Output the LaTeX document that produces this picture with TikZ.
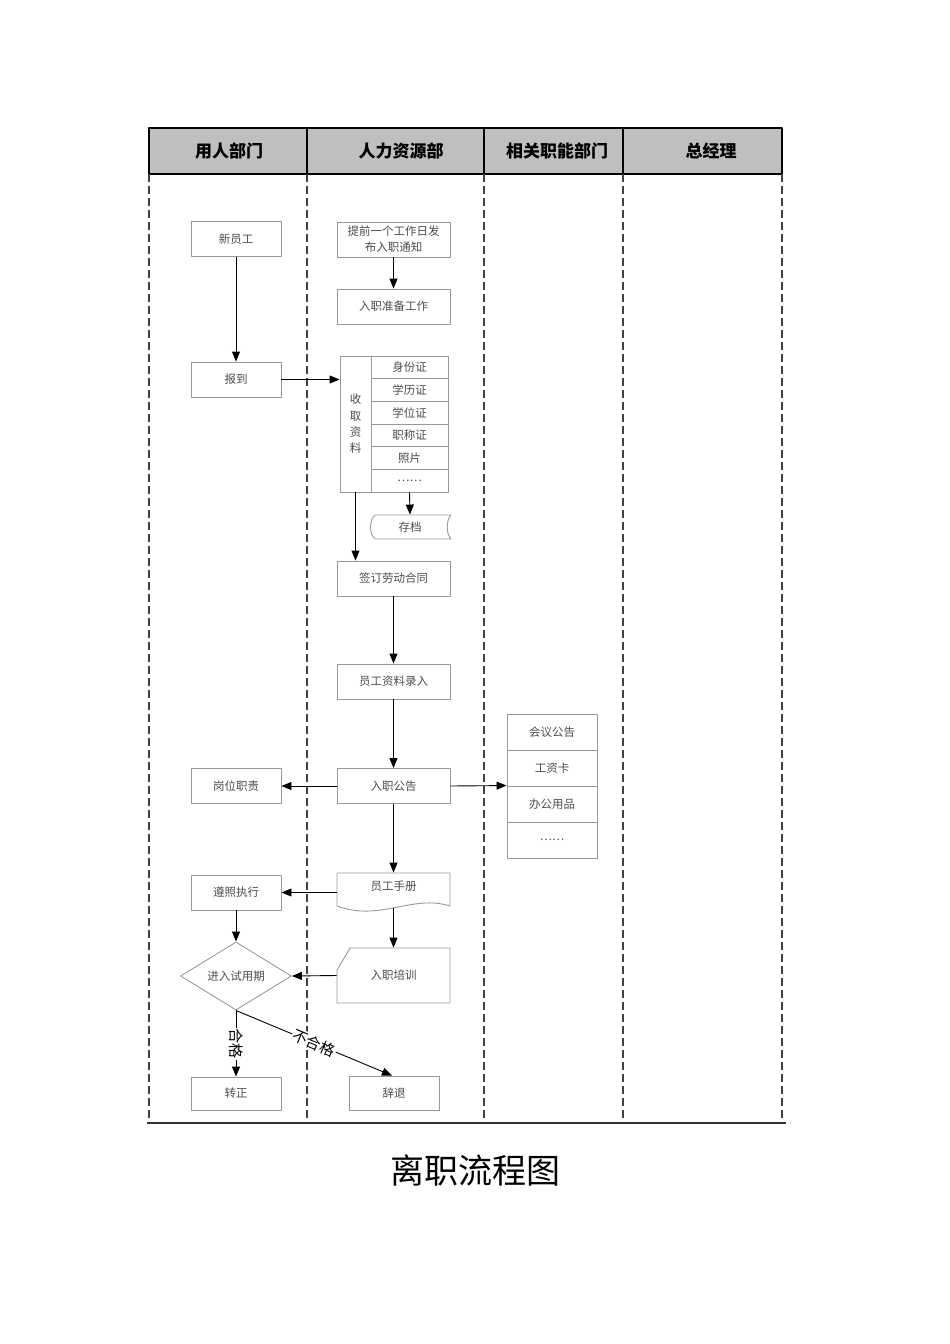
\documentclass[tikz,border=0pt]{standalone}
\usepackage{fontspec}
\setmainfont{Noto Sans CJK SC}
\usetikzlibrary{shapes.geometric,arrows.meta}
\begin{document}
\begin{tikzpicture}[x=1pt, y=-1pt, line join=round, >={Triangle[length=10pt,width=8pt]},
    box/.style={draw=black!40, line width=0.9pt, minimum width=90pt, minimum height=35pt, inner sep=0pt, text=black!70, font=\fontsize{11.5}{14}\selectfont},
    wbox/.style={box, minimum width=113pt},
    cell/.style={box, minimum width=77pt, minimum height=22.67pt},
    bare/.style={box, draw=none},
    lane/.style={black!75, line width=1.3pt, dash pattern=on 8pt off 4pt},
    head/.style={font=\bfseries\fontsize{17}{19}\selectfont},
    conn/.style={->, line width=0.9pt},
    lab/.style={fill=white, inner sep=1pt, font=\fontsize{15}{17}\selectfont}]
  \useasboundingbox (0,0) rectangle (950,1344);
  % header
  \draw[line width=1.6pt, fill=black!25] (149,128) rectangle (782,174);
  \draw[line width=1.6pt] (307,128) -- (307,174) (484,128) -- (484,174) (623,128) -- (623,174);
  \node[head] (h1) at (229,151) {用人部门};
  \node[head] (h2) at (401,151) {人力资源部};
  \node[head] (h3) at (557,151) {相关职能部门};
  \node[head] (h4) at (711,151) {总经理};
  \foreach \x in {149,307,484,623,782}
    \draw[lane] (\x,174) -- (\x,1123);
  \draw[line width=1.4pt, black!80] (147,1123) -- (786,1123);

  % nodes
  \node[box] (xyg) at (236,239) {新员工};
  \node[wbox, align=center, font=\fontsize{11.5}{16}\selectfont] (tq) at (393.5,239.5) {提前一个工作日发\\布入职通知};
  \node[wbox] (zb) at (393.5,306.5) {入职准备工作};
  \node[box] (bd) at (236,379.5) {报到};
  \node[box, minimum width=31pt, minimum height=136pt, align=center, font=\fontsize{11.5}{16.3}\selectfont] (sq) at (355.5,424) {收\\取\\资\\料};
  \foreach \t [count=\i] in {身份证,学历证,学位证,职称证,照片,……}
    \node[cell] (r\i) at (409.5,{344.67+22.67*\i}) {\t};
  \node[bare, minimum width=80pt, minimum height=24pt] (cd) at (410,527) {存档};
  \draw[black!40, line width=0.9pt] (375,515) -- (451,515) .. controls (446,520) and (446,534) .. (451,539) -- (375,539) .. controls (369,534) and (369,520) .. (375,515);
  \node[wbox] (qd) at (393.5,578.5) {签订劳动合同};
  \node[wbox] (lr) at (393.5,681.5) {员工资料录入};
  \node[wbox] (gg) at (393.5,786) {入职公告};
  \node[box] (gw) at (236,786) {岗位职责};
  \foreach \t [count=\i] in {会议公告,工资卡,办公用品,……}
    \node[box, minimum height=36pt] (t\i) at (552,{696+36*\i}) {\t};
  \node[bare, minimum width=113pt] (sc) at (393.5,890.5) {};
  \node[text=black!70, font=\fontsize{11.5}{14}\selectfont] at (393.5,886) {员工手册};
  \draw[black!40, line width=0.9pt] (337,906) -- (337,873) -- (450,873) -- (450,906) .. controls (412,894) and (380,922) .. (337,906);
  \node[box] (zz) at (236,892.5) {遵照执行};
  \node[bare, minimum width=113pt, minimum height=55pt] (px) at (393.5,975.5) {入职培训};
  \draw[black!40, line width=0.9pt] (350,948) -- (450,948) -- (450,1003) -- (337,1003) -- (337,970) -- cycle;
  \node[box, diamond, minimum width=111pt, minimum height=56pt] (sy) at (236,976) {进入试用期};
  \node[box, minimum height=33pt] (zzh) at (236,1093.5) {转正};
  \node[box, minimum height=34pt] (ct) at (394,1093) {辞退};

  % connectors
  \draw[conn] (xyg) -- (bd);
  \draw[conn] (tq) -- (zb);
  \draw[conn] (bd) -- (bd -| sq.west);
  \draw[conn] (r6.south) -- (cd.north);
  \draw[conn] (sq.south) -- (sq.south |- qd.north);
  \draw[conn] (qd) -- (lr);
  \draw[conn] (lr) -- (gg);
  \draw[conn] (gg) -- (gw);
  \draw[conn] (gg.east) -- (t3.north west);
  \draw[conn] (gg) -- (sc);
  \draw[conn] (sc.west |- zz) -- (zz.east);
  \draw[conn] (sc.south) -- (px.north);
  \draw[conn] (zz) -- (sy);
  \draw[conn] (px.west) -- (sy.east);
  \draw[conn] (sy.south) -- node[lab, rotate=-90] {合格} (zzh.north);
  \draw[conn] (sy.south) -- node[lab, sloped] {不合格} ([xshift=-2pt]ct.north);

  \node[font=\fontsize{34}{40}\selectfont] (title) at (475,1170) {离职流程图};
\end{tikzpicture}
\end{document}
